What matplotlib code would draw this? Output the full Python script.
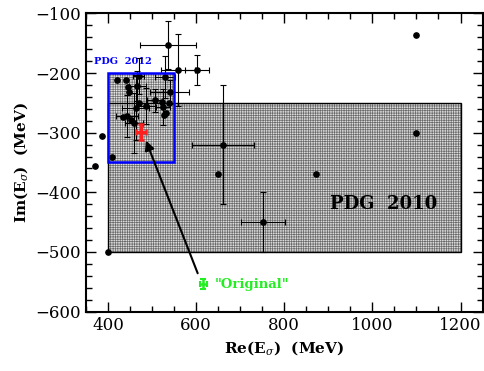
import matplotlib
matplotlib.use("Agg")
import matplotlib.pyplot as plt
from matplotlib.patches import Rectangle
from matplotlib.ticker import MultipleLocator

plt.rcParams['font.family'] = ['DejaVu Serif']
plt.rcParams['hatch.linewidth'] = 0.5
plt.rcParams['mathtext.fontset'] = 'dejavuserif'

# Points with error bars: x, y, xerr, yerr
eb_x = [536, 559, 603, 529, 540, 661, 752, 463, 443, 459, 470, 467, 486, 525, 506]
eb_y = [-153, -195, -195, -207, -232, -320, -450, -258, -272, -284, -205, -222, -255, -257, -246]
eb_xerr = [64, 38, 27, 23, 45, 70, 50, 30, 25, 20, 12, 20, 20, 15, 18]
eb_yerr = [40, 60, 25, 35, 20, 100, 50, 55, 35, 50, 30, 25, 30, 30, 20]

# Points without error bars
pt_x = [1100, 1100, 873, 650, 370, 387, 400, 410, 421, 441, 446, 447, 471, 531, 538, 522, 435, 453, 527]
pt_y = [-137, -300, -370, -370, -356, -305, -500, -341, -211, -211, -224, -231, -250, -267, -251, -249, -274, -278, -270]

# "Original" and red cross
orig_x, orig_y, orig_xerr, orig_yerr = [616], [-554], [8], [8]
red_x, red_y, red_xerr, red_yerr = [475], [-299], [12], [13]

# Regions: (x0, x1, y0, y1)
pdg2010 = (400, 1200, -500, -250)
pdg2012 = (400, 550, -350, -200)

fig = plt.figure(figsize=(4.85, 3.71), dpi=100)
ax = fig.add_axes([0.177, 0.160, 0.818, 0.804])
ax.set_xlim(350, 1250)
ax.set_ylim(-600, -100)

# PDG 2010 region
ax.add_patch(Rectangle((pdg2010[0], pdg2010[2]), pdg2010[1]-pdg2010[0], pdg2010[3]-pdg2010[2],
              facecolor='#dcdcdc', edgecolor='#6a6a6a', hatch='+++++++', linewidth=0, zorder=1))
ax.add_patch(Rectangle((pdg2010[0], pdg2010[2]), pdg2010[1]-pdg2010[0], pdg2010[3]-pdg2010[2],
              fill=False, edgecolor='black', linewidth=1.0, zorder=2))
# PDG 2012 region
ax.add_patch(Rectangle((pdg2012[0], pdg2012[2]), pdg2012[1]-pdg2012[0], pdg2012[3]-pdg2012[2],
              facecolor='#e6e6e6', edgecolor='#707070', hatch='+++++++', linewidth=0, zorder=1.5))
ax.add_patch(Rectangle((pdg2012[0], pdg2012[2]), pdg2012[1]-pdg2012[0], pdg2012[3]-pdg2012[2],
              fill=False, edgecolor='#0000ff', linewidth=1.8, zorder=6))

ax.errorbar(eb_x, eb_y, xerr=eb_xerr, yerr=eb_yerr, fmt='o', color='black', ms=3.8,
            elinewidth=0.8, capsize=2, capthick=0.8, zorder=4)
ax.plot(pt_x, pt_y, 'o', color='black', ms=3.8, zorder=4)

ax.errorbar(red_x, red_y, xerr=red_xerr, yerr=red_yerr, fmt='none', ecolor='#ff2020',
            elinewidth=2.2, capsize=2.5, capthick=1.8, zorder=7)
ax.errorbar(orig_x, orig_y, xerr=orig_xerr, yerr=orig_yerr, fmt='none', ecolor='#22ee22',
            elinewidth=1.8, capsize=2, capthick=1.5, zorder=7)

ax.annotate('', xy=(484, -309), xytext=(606, -540),
            arrowprops=dict(arrowstyle='-|>', color='black', lw=1.5, mutation_scale=14), zorder=8)

ax.text(643, -554, '"Original"', color='#22ee22', fontsize=9.5, fontweight='bold', va='center', ha='left')
ax.text(368, -181, 'PDG  2012', color='#0000ff', fontsize=7, fontweight='bold', va='center', ha='left')
ax.text(1025, -420, 'PDG  2010', color='black', fontsize=13, fontweight='bold', va='center', ha='center',
        zorder=5)

ax.xaxis.set_major_locator(MultipleLocator(200))
ax.xaxis.set_minor_locator(MultipleLocator(50))
ax.yaxis.set_major_locator(MultipleLocator(100))
ax.yaxis.set_minor_locator(MultipleLocator(20))
ax.tick_params(which='both', direction='in', top=True, right=True, width=1.0)
ax.tick_params(which='major', length=7, labelsize=12)
ax.tick_params(which='minor', length=4)
for s in ax.spines.values():
    s.set_linewidth(1.5)

ax.set_xlabel(r'Re(E$_\sigma$)  (MeV)', fontsize=11, fontweight='bold')
ax.set_ylabel(r'Im(E$_\sigma$)  (MeV)', fontsize=11, fontweight='bold')

fig.savefig('out.png', dpi=100)
